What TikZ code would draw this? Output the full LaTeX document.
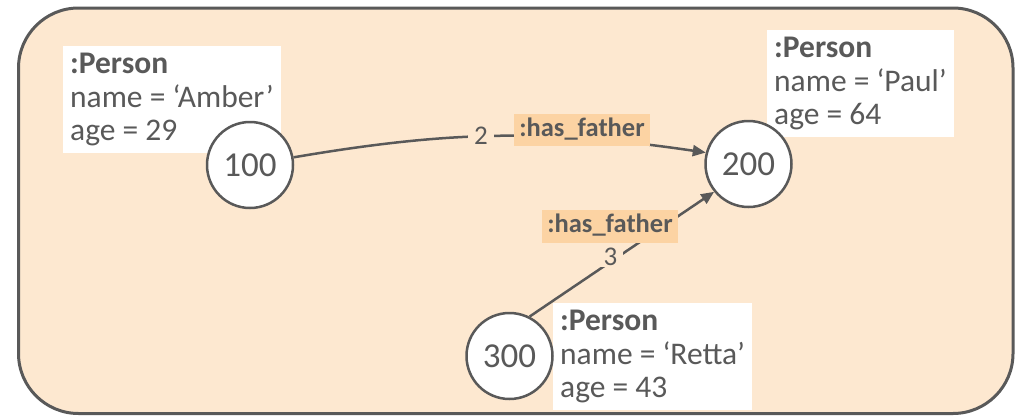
\documentclass[tikz,border=0pt]{standalone}
\usepackage{fontspec}
\setmainfont{Carlito}
\usetikzlibrary{arrows.meta}
\definecolor{bg}{HTML}{FDE8D0}
\definecolor{lab}{HTML}{FCD3A3}
\definecolor{ink}{HTML}{595959}
\begin{document}
\begin{tikzpicture}[x=1pt,y=-1pt,
  circ/.style={circle, draw=ink, line width=2.5pt, fill=white, minimum size=86pt, inner sep=0pt,
    text=ink, font=\fontsize{35}{40}\selectfont},
  pbox/.style={fill=white, anchor=north west, align=left, inner xsep=7pt, inner ysep=7pt,
    text=ink, font=\fontsize{31.5}{33.5}\selectfont},
  edge/.style={draw=ink, line width=2.5pt, -{Triangle[length=13pt,width=11pt]}},
  lab/.style={fill=lab, text=ink, inner xsep=5.5pt, inner ysep=3.5pt, text height=19pt, text depth=6.5pt,
    font=\bfseries\fontsize{26.5}{28}\selectfont},
  num/.style={fill=bg, text=ink, inner xsep=6pt, inner ysep=2pt, font=\fontsize{27}{30}\selectfont}
]
\useasboundingbox (0,0) rectangle (1017,415);
\draw[draw=ink, line width=3pt, fill=bg, rounded corners=60pt] (18.5,8) rectangle (1013,413.5);

\node[pbox] (p1) at (63,46) {\textbf{:Person}\\name = ‘Amber’\\age = 29};
\node[pbox] (p2) at (767,30) {\textbf{:Person}\\name = ‘Paul’\\age = 64};
\node[pbox] (p3) at (553,303) {\textbf{:Person}\\name = ‘Retta’\\age = 43};

\node[circ] (n100) at (250,165) {100};
\node[circ] (n200) at (748.5,164) {200};
\node[circ] (n300) at (509.5,356) {300};

\draw[edge] (n100.10) to[bend left=9] (n200.165);
\draw[edge] (n300.63) -- (n200.219);

\node[num] (l2) at (481,136) {2};
\node[lab] (f1) at (582,130) {:has\_father};
\node[num] (l3) at (610.5,256.5) {3};
\node[lab] (f2) at (610,226.5) {:has\_father};
\end{tikzpicture}
\end{document}
